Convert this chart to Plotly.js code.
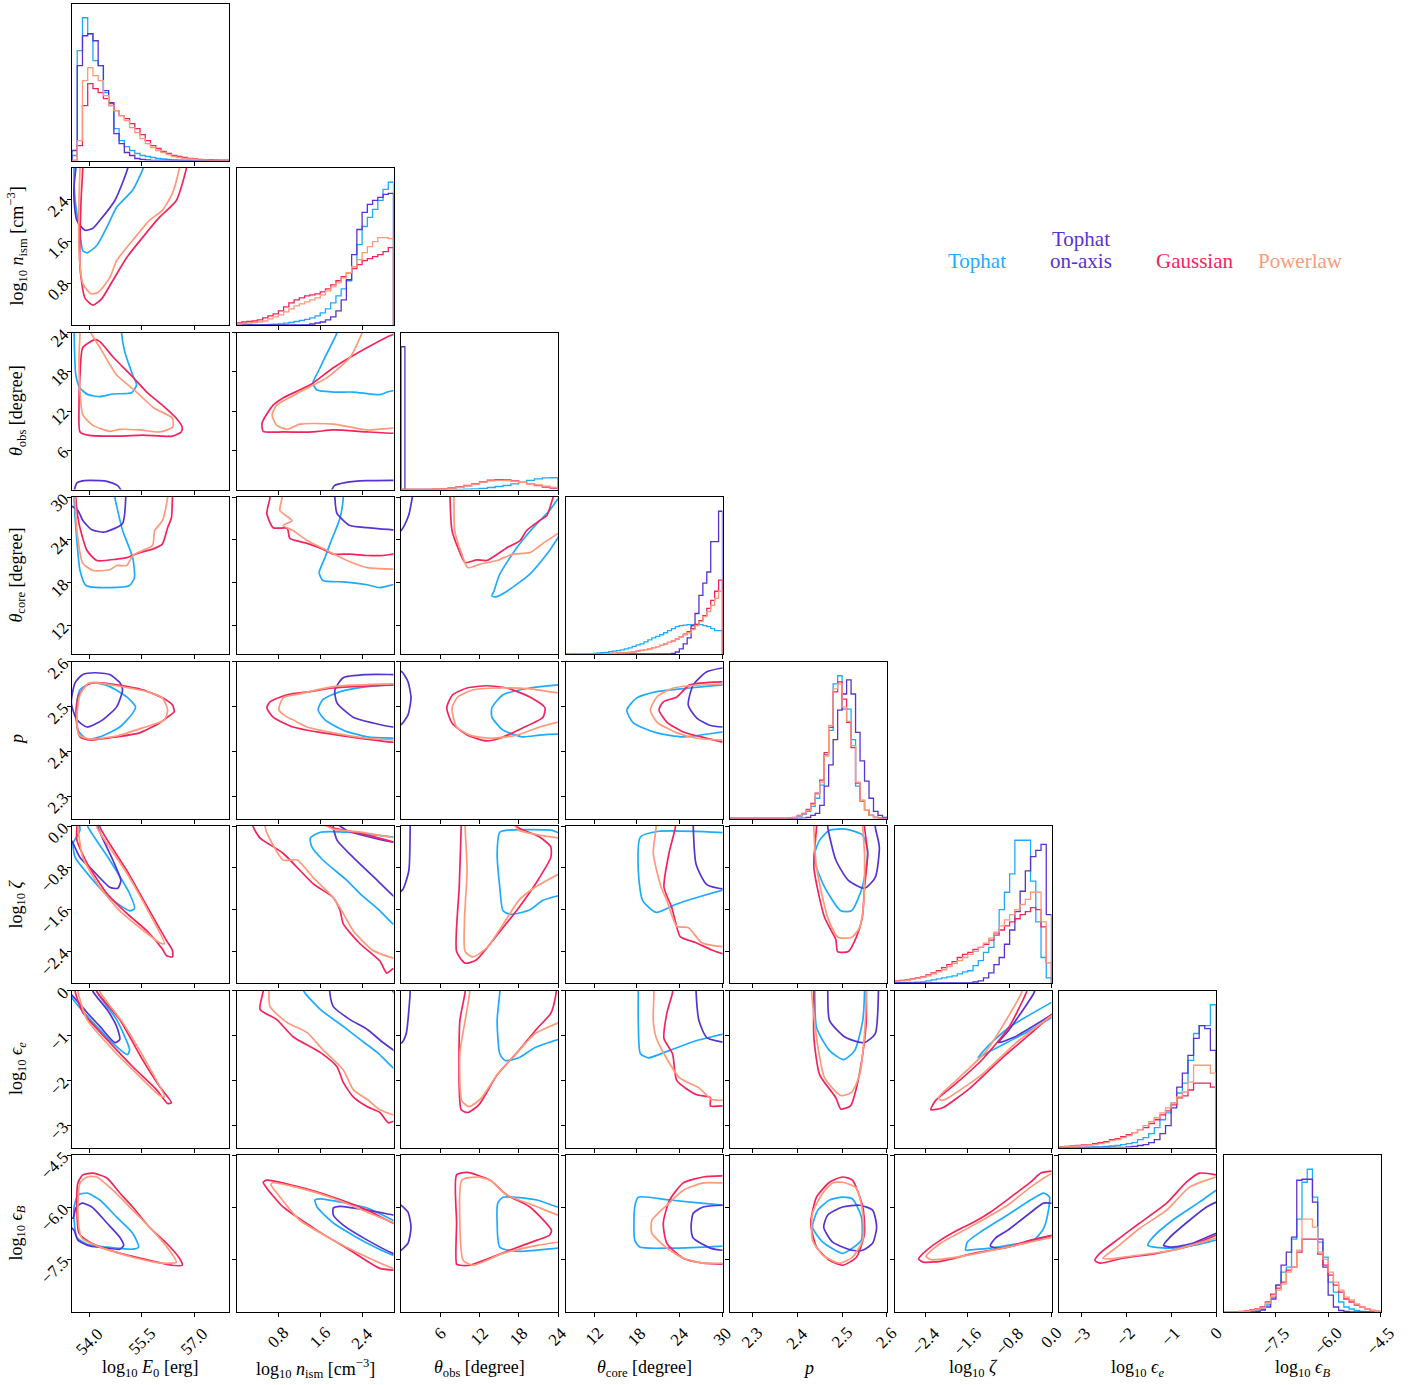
<!DOCTYPE html>
<html><head><meta charset="utf-8">
<script src="https://cdn.plot.ly/plotly-3.0.1.min.js"></script>
<style>html,body{margin:0;padding:0;background:#fff}</style>
</head><body><div id="plot" style="width:1422px;height:1385px"></div>
<script>
// ---------------- models ----------------
var MODELS = ['T','A','G','P'];
var MODEL_COLORS = {T:'#1EABFF', A:'#5633D3', G:'#F2245E', P:'#FF9979'};
var MODEL_NAMES = {T:['Tophat'], A:['Tophat','on-axis'], G:['Gaussian'], P:['Powerlaw']};

// ---------------- variables ----------------
var VARS = ['E0','nism','thobs','thcore','p','zeta','epse','epsB'];
var VAR_LABELS = [
 'log<sub>10</sub> <i>E</i><sub>0</sub> [erg]',
 'log<sub>10</sub> <i>n</i><sub>ism</sub> [cm<sup>−3</sup>]',
 '<i>θ</i><sub>obs</sub> [degree]',
 '<i>θ</i><sub>core</sub> [degree]',
 '<i>p</i>',
 'log<sub>10</sub> <i>ζ</i>',
 'log<sub>10</sub> <i>ϵ</i><sub><i>e</i></sub>',
 'log<sub>10</sub> <i>ϵ</i><sub><i>B</i></sub>'];
var VAR_RANGES = [[53.5,58.0],[0,3.0],[0,24.0001],[8,30.0001],[2.25,2.6001],[-3.0,0.0001],[-3.5,0.0001],[-9.0,-4.4999]];
var TICK_VALS = [[54.0,55.5,57.0],[0.8,1.6,2.4],[6,12,18,24],[12,18,24,30],[2.3,2.4,2.5,2.6],[-2.4,-1.6,-0.8,0.0],[-3,-2,-1,0],[-7.5,-6.0,-4.5]];
var TICK_DECIMALS = [1,1,0,0,1,1,0,1];

// ---------------- 1D histograms: [start, bin width] and heights ----------------
var hb_E0 = [53.5, 0.15];
var h_E0_T = [5,110,143,127,100,95,68,55,32,20,14,10,7,5,4,3,2,1.5,1,0.5,0.3,0,0,0,0,0,0,0,0,0];
var h_E0_A = [10,95,125,127,120,95,70,58,27,17,8,5,2,1,0.5,0,0,0,0,0,0,0,0,0,0,0,0,0,0,0];
var h_E0_G = [0,15,55,77,72,68,62,57,50,45,42,37,32,26,20,15,12,9,7,5,4,3,2,1.5,1,0.7,0.5,0.3,0,0];
var h_E0_P = [0,20,80,93,85,80,65,55,50,45,40,33,28,22,17,13,10,8,6,4,3,2,1.5,1,0.5,0.3,0.2,0,0,0];

var hb_nism = [0, 0.1];
var h_nism_T = [0,0,0,0,0.2,0.3,0.5,0.8,1.2,1.8,2.5,3.5,4.5,5.5,7,9,12,16,22,29,36,44,58,80,98,107,115,124,135,142];
var h_nism_A = [0,0,0,0,0,0,0,0,0,0,0,0,0,0,1,2,3,5,8,14,25,45,70,95,112,120,124,127,130,131];
var h_nism_G = [2,3,3.5,4,5,7,9,11,14,18,22,25,27,29,30,31,33,36,40,44,48,52,56,60,64,66,68,70,73,77];
var h_nism_P = [1,1.5,2,2.5,3,4,6,8,10,13,16,19,21,23,25,27,30,34,38,42,47,52,58,65,72,78,83,87,87,86];

var hb_thobs = [0, 1.2];
var hb_thobs_A = [0, 0.6];
var h_thobs_T = [0,0,0,0,0,0,0,0.2,0.4,0.7,1.2,2,3,4,5.5,7,9,10.5,11.5,11.7];
var h_thobs_A = [142];
var h_thobs_G = [0,0,0,0,0.3,0.8,1.5,2.5,4,5.5,7.5,9.2,9.7,9.5,8.5,7,5.5,4,2.5,1.3];
var h_thobs_P = [0,0,0,0,0.3,0.7,1.3,2.2,3.5,5,7,8.5,9,8.8,8,7,5.8,4.5,3.3,2.2];

var hb_thcore = [8, 0.55];
var h_thcore_T = [0,0,0,0,0,0.2,0.4,0.6,1,1.3,1.7,2.2,2.8,3.3,4,5,6,7.5,9,10,12,14,16,17.5,19,21,23,25,27,28,28.5,29,29,29.5,29,28,27,25,23,23];
var h_thcore_A = [0,0,0,0,0,0,0,0,0,0,0,0,0,0,0,0,0,0,0,0,0,0,0,0,0,0,0,0.5,2,5,10,16,28,40,58,70,81,111,111,141];
var h_thcore_G = [0,0,0,0,0,0,0,0,0.1,0.2,0.3,0.4,0.6,0.8,1,1.3,1.7,2.2,2.8,3.5,4.3,5.2,6.2,7.3,8.5,10,11.5,13,15,17,19.5,22,25,29,33,38,45,53,62,73];
var h_thcore_P = [0,0,0,0,0,0,0,0,0.1,0.2,0.3,0.4,0.6,0.8,1,1.3,1.7,2.2,2.8,3.5,4.3,5.2,6.2,7.3,8.5,10,11.5,13,15,17,19,21,24,28,32,37,42,48,55,62];

var hb_p = [2.25, 0.01];
var h_p_T = [0,0,0,0,0,0,0,0,0,0,0,0,0.1,0.2,0.5,2,4,7,12,20,33,63,87,133,141,108,108,78,32,17,8,3,1,0.3,0];
var h_p_A = [0,0,0,0,0,0,0,0,0,0,0,0,0,0,0,0,0.3,1,3,5,13,32,53,78,107,123,137,123,85,57,37,20,7,3,1];
var h_p_G = [0,0,0,0,0,0,0,0,0,0,0,0,0.1,0.3,1,3,5,9,15,25,38,65,90,125,135,118,95,70,35,18,8,3,1,0.3,0];
var h_p_P = [0,0,0,0,0,0,0,0,0,0,0,0,0.1,0.3,0.8,2.5,4.5,8,14,24,36,62,92,128,133,110,96,72,36,18,8,3,1,0.3,0];

var hb_zeta = [-3.0, 0.1];
var h_zeta_T = [0.3,0.4,0.5,0.7,0.9,1.1,2,3,4,5,6,7,9,11,12,17,22,30,35,49,72,89,107,140,140,140,100,60,25,5];
var h_zeta_A = [0,0,0,0,0,0,0,0,0,0,0,0,0,0,0.2,1,2,5,10,18,25,38,52,70,90,110,124,130,136,67];
var h_zeta_G = [2,2.5,3,4,5,6,8,10,12,15,18,21,25,28,30,33,35,38,42,47,52,56,60,63,67,70,74,72,55,20];
var h_zeta_P = [1.5,2,2.5,3.5,4.5,5.5,7,9,11,13,16,19,22,25,28,31,35,39,44,50,56,62,67,72,77,82,89,89,60,20];

var hb_epse = [-3.5, 0.125];
var h_epse_T = [0,0,0,0.1,0.2,0.3,0.5,0.7,1,1.5,2,3,4,5,8,10,14,20,28,35,45,55,65,88,115,123,123,144];
var h_epse_A = [0,0,0,0,0,0,0,0,0,0,0,0,0.5,1,2,3,5,8,14,22,40,61,75,93,110,123,120,98];
var h_epse_G = [0.5,1,1.5,2,2.5,3,4,5,6,8,9,11,13,15,18,20,24,28,33,37,43,50,52,58,65,65,65,61];
var h_epse_P = [0.5,1,1,1.5,2,2.5,3,4,5,7,8,10,12,15,18,22,26,30,35,40,45,51,56,66,83,83,83,75];

var hb_epsB = [-9.0, 0.15];
var h_epsB_T = [0,0,0,0,0,0.3,1,3,7,15,27,40,45,73,93,130,143,115,70,55,30,20,10,5,3,1.5,0.7,0.3,0,0];
var h_epsB_A = [0,0,0,0,0,0,0.5,2,5,13,27,47,60,75,132,133,133,110,73,45,17,5,1.5,0.5,0,0,0,0,0,0];
var h_epsB_G = [0,0,0,0.5,1,2,3,5,10,18,24,30,42,45,60,73,73,73,58,47,37,27,20,13,10,7,5,3,1.5,0.8];
var h_epsB_P = [0,0,0,0.3,0.7,1.5,2.5,4,9,16,22,28,40,45,62,93,93,85,60,53,40,30,22,15,12,8,5,3,1.5,0.5];

// ---------------- 2D contours (x = column variable, y = row variable) ----------------
var c_nism_E0_T = [[53.58,3.15],[53.56,3.0],[53.59,2.38],[53.73,1.75],[53.81,1.42],[53.93,1.38],[54.21,1.52],[54.50,1.87],[54.78,2.25],[55.24,2.58],[55.52,2.96],[55.6,3.15]];
var c_nism_E0_A = [[53.61,3.15],[53.61,3.0],[53.56,2.67],[53.56,2.38],[53.64,2.0],[53.87,1.81],[54.10,1.85],[54.30,2.0],[54.73,2.38],[54.98,2.77],[55.10,3.0],[55.16,3.15]];
var c_nism_E0_G = [[53.82,3.15],[53.81,3.0],[53.76,2.38],[53.73,1.10],[53.87,0.52],[54.10,0.38],[54.35,0.5],[54.67,0.85],[55.07,1.29],[55.52,1.67],[56.01,2.06],[56.49,2.38],[56.78,3.0],[56.8,3.15]];
var c_nism_E0_P = [[53.73,3.15],[53.73,3.0],[53.70,2.38],[53.70,1.42],[53.81,0.79],[54.04,0.6],[54.24,0.62],[54.58,0.9],[54.78,1.23],[55.24,1.62],[55.72,2.0],[56.09,2.19],[56.38,2.52],[56.58,3.0],[56.62,3.15]];

var c_thobs_E0_T = [[53.56,25],[53.56,24],[53.61,17.5],[53.73,15.5],[53.96,14.5],[54.30,14.2],[54.67,14.6],[55.21,14.8],[55.35,16],[55.24,17.5],[55.01,21.1],[54.92,24],[54.92,25]];
var c_thobs_E0_A = [[53.55,-0.5],[53.64,1.0],[53.85,1.35],[54.01,1.4],[54.5,1.25],[54.81,0.6],[54.95,-0.5]];
var c_thobs_E0_G = [[54.16,22.9],[53.81,21.7],[53.73,17.5],[53.70,12.5],[53.73,8.8],[53.96,8.3],[54.87,8.15],[55.52,8.3],[56.38,8.15],[56.63,8.8],[56.66,9.5],[56.49,10.9],[56.09,12.9],[55.64,14.9],[55.24,17.2],[54.67,20.3],[54.30,22.6],[54.16,22.9]];
var c_thobs_E0_P = [[54.04,25],[54.04,24],[54.30,21.7],[54.78,17.5],[55.35,14.9],[55.84,12.5],[56.38,10.9],[56.38,9.5],[56.01,8.8],[55.44,9.1],[54.87,9.2],[54.58,8.9],[54.10,9.8],[53.81,11.4],[53.73,14.9],[53.70,20.2],[53.73,24],[53.73,25]];

var c_thobs_nism_T = [[1.92,25],[1.92,24],[1.69,20.2],[1.56,18],[1.46,16.3],[1.54,15.2],[1.85,14.9],[2.23,14.9],[2.74,14.5],[2.88,14.9],[2.99,15.1],[3.1,15.1]];
var c_thobs_nism_A = [[1.8,-0.5],[1.87,0.6],[2.1,1.1],[2.5,1.35],[2.99,1.4],[3.1,1.4]];
var c_thobs_nism_G = [[3.1,23.9],[2.99,23.7],[2.50,21.7],[1.85,18.6],[1.41,16.0],[0.89,14.0],[0.70,12.9],[0.49,10.2],[0.51,8.9],[0.89,8.8],[1.46,8.8],[1.85,9.1],[2.50,8.8],[2.99,8.6],[3.1,8.6]];
var c_thobs_nism_P = [[2.42,25],[2.40,24],[2.17,20.2],[1.73,17.1],[1.21,14.9],[0.77,12.9],[0.68,11.4],[0.77,9.8],[0.97,9.2],[1.21,10.0],[1.85,10.0],[2.50,9.1],[2.99,9.4],[3.1,9.4]];

var c_thcore_E0_T = [[53.56,31],[53.56,29.9],[53.64,23.9],[53.73,19.7],[53.90,17.6],[54.58,17.3],[55.15,17.6],[55.29,18.7],[55.24,21.5],[54.95,25.3],[54.81,28.1],[54.73,29.9],[54.73,31]];
var c_thcore_E0_A = [[55.04,31],[55.04,29.9],[54.95,26.3],[54.44,25.1],[54.07,25.4],[53.81,26.7],[53.67,28.1],[53.4,29]];
var c_thcore_E0_G = [[53.61,31],[53.61,29.9],[53.70,26.3],[53.93,22.5],[54.21,21.1],[54.78,21.3],[55.07,21.5],[55.44,22.2],[55.81,22.7],[56.09,23.4],[56.24,25.7],[56.35,27.1],[56.38,29.9],[56.4,31]];
var c_thcore_E0_P = [[53.59,31],[53.59,29.9],[53.64,25.3],[53.81,20.7],[54.10,19.7],[54.58,19.8],[54.78,20.4],[55.07,20.4],[55.24,21.8],[55.52,22.5],[55.81,23.2],[55.87,25.3],[56.09,26.7],[56.24,29.9],[56.26,31]];

var c_thcore_nism_T = [[2.04,31],[2.04,29.9],[1.98,27.1],[1.79,23.5],[1.69,21.5],[1.58,19.4],[1.65,18.3],[2.04,18.1],[2.50,17.7],[2.74,17.3],[2.99,17.7],[3.1,17.7]];
var c_thcore_nism_A = [[1.88,31],[1.88,29.9],[1.92,27.7],[2.17,26.0],[2.50,25.7],[2.99,25.4],[3.1,25.4]];
var c_thcore_nism_G = [[0.64,31],[0.64,29.9],[0.58,27.7],[0.70,25.7],[0.97,25.6],[1.02,24.2],[1.35,23.5],[1.65,22.7],[1.85,22.0],[2.17,22.0],[2.50,21.8],[2.80,21.8],[2.99,22.0],[3.1,22.0]];
var c_thcore_nism_P = [[0.87,31],[0.87,29.9],[0.83,28.1],[1.06,26.7],[0.89,26.0],[1.08,25.3],[1.35,23.9],[1.73,22.5],[2.11,21.1],[2.50,20.1],[2.99,19.9],[3.1,19.9]];

var c_thcore_thobs_T = [[25.5,31.5],[23.8,29.5],[22.7,28.1],[20.2,25.7],[17.7,22.9],[15.1,19.2],[14.2,16.8],[13.9,16.1],[14.5,16.0],[16.2,16.8],[19.7,19.2],[22.3,22.0],[24,24.3],[25,25.8]];
var c_thcore_thobs_A = [[1.9,31],[1.7,29.8],[1.2,27.5],[0.5,26],[0,25.3],[-0.5,25.1]];
var c_thcore_thobs_G = [[7.5,31],[7.5,29.8],[7.8,25.3],[8.7,22.9],[9.8,20.8],[11.6,21.2],[13.1,21.1],[16.2,22.9],[18.2,23.9],[19.2,25.3],[21.2,26.7],[22.3,27.4],[23.2,29.8],[23.6,31]];
var c_thcore_thobs_P = [[8.1,31],[8.1,29.8],[8.2,25.3],[9.3,22.0],[10.2,20.1],[12.1,20.6],[14.7,21.1],[17.1,22.0],[19.7,22.2],[21.7,23.5],[24.0,24.9],[25,25.5]];

var c_p_E0_T = [[54.10,2.553],[54.58,2.544],[55.07,2.521],[55.32,2.499],[55.24,2.485],[54.87,2.454],[54.30,2.432],[53.93,2.427],[53.67,2.447],[53.61,2.492],[53.73,2.537],[54.10,2.553]];
var c_p_E0_A = [[54.16,2.575],[54.58,2.571],[54.87,2.553],[54.95,2.537],[54.78,2.499],[54.38,2.470],[53.93,2.454],[53.64,2.470],[53.48,2.508],[53.59,2.553],[53.81,2.571],[54.16,2.575]];
var c_p_E0_G = [[54.21,2.553],[54.78,2.548],[55.52,2.537],[56.09,2.519],[56.38,2.503],[56.43,2.488],[56.24,2.476],[56.01,2.463],[55.44,2.441],[54.78,2.432],[54.01,2.425],[53.73,2.432],[53.64,2.463],[53.67,2.521],[53.93,2.548],[54.21,2.553]];
var c_p_E0_P = [[54.16,2.553],[54.78,2.546],[55.64,2.533],[56.09,2.519],[56.24,2.492],[56.15,2.470],[55.52,2.452],[54.78,2.434],[54.01,2.427],[53.70,2.436],[53.64,2.476],[53.73,2.526],[53.96,2.551],[54.16,2.553]];

var c_p_nism_T = [[3.1,2.548],[2.99,2.548],[2.50,2.544],[1.98,2.533],[1.65,2.515],[1.56,2.492],[1.69,2.470],[2.04,2.447],[2.50,2.432],[2.99,2.429],[3.1,2.429]];
var c_p_nism_A = [[3.1,2.571],[2.99,2.571],[2.50,2.571],[2.04,2.564],[1.88,2.537],[1.92,2.508],[2.23,2.476],[2.61,2.463],[2.99,2.454],[3.1,2.454]];
var c_p_nism_G = [[3.1,2.548],[2.99,2.548],[1.85,2.541],[1.41,2.533],[0.97,2.526],[0.64,2.510],[0.58,2.497],[0.70,2.476],[1.08,2.454],[1.54,2.443],[2.17,2.432],[2.99,2.420],[3.1,2.420]];
var c_p_nism_P = [[3.1,2.550],[2.99,2.550],[1.85,2.544],[1.21,2.528],[0.89,2.519],[0.81,2.492],[0.97,2.476],[1.08,2.470],[1.35,2.454],[1.85,2.441],[2.50,2.429],[2.99,2.425],[3.1,2.425]];

var c_p_thobs_T = [[25,2.549],[24.0,2.548],[19.7,2.541],[15.6,2.526],[13.9,2.497],[13.9,2.476],[15.6,2.447],[18.6,2.432],[21.2,2.436],[24.0,2.438],[25,2.438]];
var c_p_thobs_A = [[-0.5,2.58],[0.15,2.577],[1.07,2.555],[1.53,2.519],[1.07,2.481],[0.15,2.461],[-0.5,2.455]];
var c_p_thobs_G = [[7.0,2.497],[7.9,2.526],[10.1,2.541],[13.1,2.546],[16.2,2.541],[19.7,2.521],[22.0,2.497],[21.7,2.476],[18.6,2.452],[15.1,2.429],[13.1,2.423],[10.1,2.436],[7.8,2.463],[7.0,2.497]];
var c_p_thobs_P = [[25,2.528],[24.0,2.530],[19.7,2.539],[14.7,2.541],[11.0,2.537],[8.7,2.521],[7.8,2.497],[8.5,2.454],[10.5,2.436],[13.6,2.429],[17.7,2.436],[21.2,2.454],[24.0,2.465],[25,2.468]];

var c_p_thcore_T = [[31,2.549],[30.1,2.548],[25.4,2.541],[20.8,2.533],[18.0,2.519],[16.6,2.492],[17.5,2.463],[20.8,2.441],[24.5,2.432],[30.1,2.443],[31,2.444]];
var c_p_thcore_A = [[31,2.588],[30.1,2.586],[27.8,2.577],[25.9,2.548],[25.2,2.503],[26.4,2.474],[28.2,2.458],[30.1,2.454],[31,2.454]];
var c_p_thcore_G = [[31,2.555],[30.1,2.555],[25.4,2.548],[23.6,2.521],[21.7,2.510],[21.1,2.492],[22.2,2.465],[24.5,2.443],[27.8,2.429],[30.1,2.420],[31,2.419]];
var c_p_thcore_P = [[31,2.550],[30.1,2.550],[23.1,2.541],[20.8,2.521],[19.9,2.492],[20.8,2.465],[23.6,2.441],[26.4,2.429],[30.1,2.425],[31,2.425]];

var c_zeta_E0_T = [[53.67,0.12],[53.73,-0.08],[53.53,-0.33],[53.59,-0.6],[53.93,-0.90],[54.58,-1.37],[55.15,-1.62],[55.29,-1.58],[55.15,-1.29],[54.58,-0.65],[53.96,-0.02],[53.90,0.12]];
var c_zeta_E0_A = [[54.24,0.1],[54.24,-0.02],[54.67,-0.65],[54.90,-1.04],[54.81,-1.19],[54.58,-1.17],[54.10,-0.85],[53.73,-0.6],[53.53,-0.33],[53.44,-0.23]];
var c_zeta_E0_G = [[54.30,0.12],[54.30,-0.02],[55.07,-0.85],[55.72,-1.62],[56.21,-2.19],[56.38,-2.38],[56.38,-2.50],[56.21,-2.48],[56.09,-2.35],[55.64,-2.0],[55.07,-1.67],[54.50,-1.29],[53.93,-0.71],[53.64,-0.27],[53.64,-0.02],[53.64,0.12]];
var c_zeta_E0_P = [[54.21,0.12],[54.21,-0.02],[55.07,-0.90],[55.72,-1.67],[56.15,-2.25],[56.01,-2.23],[55.44,-1.94],[54.87,-1.62],[54.30,-1.17],[53.81,-0.6],[53.67,-0.02],[53.67,0.12]];

var c_zeta_nism_T = [[3.1,-0.21],[2.99,-0.21],[2.17,-0.12],[1.60,-0.12],[1.41,-0.23],[1.44,-0.40],[1.65,-0.65],[2.11,-1.04],[2.36,-1.29],[2.74,-1.62],[2.99,-1.87],[3.1,-1.93]];
var c_zeta_nism_A = [[3.1,-0.33],[2.99,-0.31],[2.5,-0.2],[2.1,-0.08],[1.9,0.05],[1.85,0.05],[1.85,-0.02],[1.92,-0.27],[2.23,-0.6],[2.69,-1.04],[2.99,-1.33],[3.1,-1.4]];
var c_zeta_nism_G = [[3.1,-0.33],[2.99,-0.3],[2.4,-0.15],[1.85,-0.04],[1.5,0.1],[0.30,0.1],[0.32,-0.02],[0.45,-0.23],[0.89,-0.52],[1.46,-1.10],[1.85,-1.37],[1.98,-1.62],[2.04,-1.87],[2.36,-2.25],[2.74,-2.58],[2.87,-2.81],[2.99,-2.73],[3.1,-2.75]];
var c_zeta_nism_P = [[3.1,-0.23],[2.99,-0.22],[2.4,-0.12],[1.85,-0.06],[1.5,0.1],[0.54,0.1],[0.55,-0.02],[0.58,-0.13],[0.89,-0.65],[1.16,-0.65],[1.46,-0.98],[1.85,-1.37],[2.04,-1.67],[2.23,-2.0],[2.61,-2.38],[2.99,-2.52],[3.1,-2.52]];

var c_zeta_thobs_T = [[25,-0.16],[24.1,-0.13],[22.9,-0.08],[16.3,-0.08],[15.1,-0.12],[14.7,-0.52],[15.1,-1.17],[15.6,-1.62],[16.8,-1.69],[19.7,-1.60],[21.7,-1.42],[24.1,-1.33],[25,-1.3]];
var c_zeta_thobs_A = [[1.4,0.12],[1.4,-0.02],[1.2,-0.85],[0.3,-1.21],[-0.5,-1.3]];
var c_zeta_thobs_G = [[9.2,0.12],[9.2,-0.02],[8.9,-1.17],[8.5,-2.40],[9.8,-2.62],[11.5,-2.56],[14.7,-2.08],[18.0,-1.56],[20.9,-1.04],[22.9,-0.60],[22.9,-0.40],[21.2,-0.21],[18.0,-0.04],[17,0.05],[16,0.12]];
var c_zeta_thobs_P = [[9.8,0.12],[9.8,-0.02],[10.1,-0.85],[9.7,-1.81],[9.8,-2.40],[11.0,-2.50],[13.1,-2.33],[15.6,-1.88],[18.0,-1.42],[20.5,-1.17],[24.1,-0.92],[25,-0.88],null,[17,0.1],[18.0,-0.08],[24.1,-0.23],[25,-0.25]];

var c_zeta_thcore_T = [[31,-0.14],[30.5,-0.13],[21.1,-0.10],[18.5,-0.21],[18.2,-0.85],[18.8,-1.42],[20.7,-1.65],[23.4,-1.50],[26.3,-1.37],[30.5,-1.21],[31,-1.2]];
var c_zeta_thcore_A = [[25.9,0.12],[25.9,-0.02],[26.3,-0.73],[27.8,-1.12],[30.5,-1.21],[31,-1.21]];
var c_zeta_thcore_G = [[23.4,0.12],[23.4,-0.02],[22.5,-0.52],[21.8,-1.17],[22.9,-1.56],[23.4,-1.83],[24.1,-2.12],[26.3,-2.23],[28.5,-2.37],[30.5,-2.46],[31,-2.47]];
var c_zeta_thcore_P = [[20.7,0.12],[20.7,-0.02],[20.3,-0.52],[21.4,-1.17],[22.2,-1.42],[23.6,-1.92],[25.2,-1.94],[27.1,-2.23],[30.5,-2.31],[31,-2.31]];

var c_zeta_p_T = [[2.450,-0.27],[2.472,-0.08],[2.508,-0.06],[2.545,-0.17],[2.557,-0.46],[2.545,-1.17],[2.521,-1.62],[2.497,-1.62],[2.461,-1.17],[2.437,-0.60],[2.450,-0.27]];
var c_zeta_p_A = [[2.468,0.12],[2.468,-0.02],[2.486,-0.65],[2.514,-1.04],[2.550,-1.19],[2.574,-0.98],[2.583,-0.40],[2.574,-0.02],[2.574,0.12]];
var c_zeta_p_G = [[2.443,0.12],[2.443,-0.02],[2.437,-0.79],[2.461,-1.75],[2.486,-2.17],[2.490,-2.40],[2.514,-2.40],[2.532,-2.12],[2.545,-1.75],[2.550,-1.17],[2.557,-0.54],[2.550,-0.02],[2.550,0.12]];
var c_zeta_p_P = [[2.437,0.12],[2.437,-0.02],[2.443,-0.79],[2.468,-1.75],[2.490,-2.12],[2.521,-2.13],[2.539,-1.94],[2.548,-1.50],[2.550,-0.54],[2.546,-0.02],[2.546,0.12]];

var c_epse_E0_T = [[54.21,0.13],[54.21,-0.02],[54.78,-0.65],[55.15,-1.32],[55.09,-1.43],[54.78,-1.25],[54.10,-0.71],[53.53,-0.2],[53.44,-0.1]];
var c_epse_E0_A = [[54.10,0.13],[54.10,-0.02],[54.50,-0.42],[54.78,-0.80],[54.87,-1.09],[54.73,-1.16],[54.30,-0.80],[53.93,-0.49],[53.53,-0.13],[53.44,-0.07]];
var c_epse_E0_G = [[54.21,0.13],[54.21,-0.02],[54.87,-0.65],[55.52,-1.54],[56.01,-2.14],[56.35,-2.5],[56.24,-2.52],[55.92,-2.21],[55.24,-1.70],[54.50,-1.09],[53.81,-0.49],[53.59,-0.02],[53.59,0.13]];
var c_epse_E0_P = [[54.30,0.13],[54.30,-0.02],[54.95,-0.71],[55.64,-1.61],[56.15,-2.37],[56.01,-2.34],[55.44,-1.92],[54.67,-1.32],[53.93,-0.65],[53.67,-0.02],[53.67,0.13]];

var c_epse_nism_T = [[1.29,0.13],[1.29,-0.02],[1.60,-0.42],[2.04,-0.80],[2.36,-1.09],[2.69,-1.38],[2.99,-1.72],[3.1,-1.8]];
var c_epse_nism_A = [[3.1,-0.2],[2.95,0.05],null,[1.78,0.13],[1.78,-0.02],[1.85,-0.36],[2.17,-0.65],[2.50,-0.87],[2.80,-1.16],[2.99,-1.32],[3.1,-1.4]];
var c_epse_nism_G = [[0.51,0.13],[0.51,-0.02],[0.45,-0.42],[0.77,-0.65],[1.08,-1.03],[1.60,-1.38],[1.92,-1.70],[2.04,-2.05],[2.23,-2.37],[2.50,-2.59],[2.74,-2.72],[2.90,-2.95],[2.99,-2.92],[3.1,-2.92]];
var c_epse_nism_P = [[0.62,0.13],[0.62,-0.02],[0.64,-0.36],[0.96,-0.71],[1.35,-0.94],[1.65,-1.32],[2.04,-1.77],[2.23,-2.21],[2.50,-2.43],[2.74,-2.66],[2.99,-2.77],[3.1,-2.8]];

var c_epse_thobs_T = [[15.1,0.13],[15.1,-0.04],[14.7,-0.67],[15.1,-1.41],[15.9,-1.56],[18.0,-1.50],[20.5,-1.27],[24.1,-1.09],[25,-1.07]];
var c_epse_thobs_A = [[1.4,0.13],[1.4,-0.04],[0.8,-0.96],[0.15,-1.16],[-0.5,-1.2]];
var c_epse_thobs_G = [[9.8,0.13],[9.8,-0.04],[9.0,-0.67],[8.9,-2.17],[9.2,-2.66],[10.2,-2.72],[11.9,-2.55],[14.7,-1.88],[18.0,-1.34],[20.9,-0.83],[22.9,-0.51],[23.7,-0.07],[23.8,0.13]];
var c_epse_thobs_P = [[10.5,0.13],[10.5,-0.04],[9.8,-0.67],[9.0,-1.41],[9.3,-2.46],[10.4,-2.59],[12.2,-2.41],[14.7,-1.88],[18.0,-1.34],[20.5,-0.96],[24.1,-0.72],[25,-0.7]];

var c_epse_thcore_T = [[18.2,0.13],[18.2,-0.04],[18.2,-0.67],[18.5,-1.41],[19.6,-1.50],[22.5,-1.34],[26.3,-1.12],[30.5,-0.96],[31,-0.95]];
var c_epse_thcore_A = [[26.3,0.13],[26.3,-0.04],[26.7,-0.67],[27.8,-1.05],[30.5,-1.16],[31,-1.16]];
var c_epse_thcore_G = [[23.0,0.13],[23.0,-0.04],[22.2,-0.51],[21.8,-1.07],[23.0,-1.41],[23.6,-2.01],[26.3,-2.32],[28.3,-2.39],[28.3,-2.57],[30.5,-2.57],[31,-2.57]];
var c_epse_thcore_P = [[20.4,0.13],[20.4,-0.04],[20.3,-0.67],[20.7,-1.05],[21.8,-1.41],[24.0,-1.95],[26.7,-2.17],[28.5,-2.43],[30.5,-2.45],[31,-2.45]];

var c_epse_p_T = [[2.439,0.13],[2.439,-0.04],[2.443,-0.83],[2.472,-1.34],[2.503,-1.54],[2.528,-1.34],[2.546,-0.67],[2.55,-0.04],[2.55,0.13]];
var c_epse_p_A = [[2.468,0.13],[2.468,-0.04],[2.472,-0.67],[2.508,-1.05],[2.550,-1.16],[2.574,-0.96],[2.581,-0.04],[2.581,0.13]];
var c_epse_p_G = [[2.437,0.13],[2.437,-0.04],[2.437,-1.05],[2.45,-1.88],[2.486,-2.39],[2.497,-2.64],[2.519,-2.57],[2.532,-2.17],[2.546,-1.41],[2.554,-0.67],[2.554,-0.04],[2.554,0.13]];
var c_epse_p_P = [[2.432,0.13],[2.432,-0.04],[2.443,-1.05],[2.461,-1.95],[2.497,-2.34],[2.521,-2.27],[2.539,-1.88],[2.55,-0.96],[2.554,-0.04],[2.554,0.13]];

var c_epse_zeta_T = [[0.13,-0.18],[-0.82,-0.83],[-1.24,-1.27],[-1.40,-1.50],[-1.15,-1.34],[-0.52,-0.96],[0.13,-0.51]];
var c_epse_zeta_A = [[-0.3,0.13],[-0.33,-0.04],[-0.82,-0.89],[-1.01,-1.16],[-0.73,-1.05],[0.13,-0.45]];
var c_epse_zeta_G = [[-0.45,0.13],[-0.48,-0.04],[-0.82,-0.83],[-1.34,-1.56],[-1.85,-2.10],[-2.22,-2.46],[-2.31,-2.66],[-2.2,-2.65],[-2.07,-2.61],[-1.55,-2.17],[-0.94,-1.50],[-0.33,-0.89],[0.13,-0.40]];
var c_epse_zeta_P = [[-0.55,0.13],[-0.57,-0.04],[-1.24,-1.34],[-1.76,-1.94],[-2.16,-2.39],[-2.1,-2.45],[-1.97,-2.39],[-1.34,-1.88],[-0.63,-1.12],[0.13,-0.45]];

var c_epsB_E0_T = [[53.56,-5.99],[53.67,-5.65],[53.93,-5.59],[54.30,-5.79],[54.78,-6.28],[55.24,-6.74],[55.41,-7.14],[55.24,-7.20],[54.50,-7.14],[53.93,-7.06],[53.64,-6.86],[53.56,-6.37],[53.56,-5.99]];
var c_epsB_E0_A = [[53.45,-6.3],[53.53,-6.31],[53.61,-6.02],[53.78,-5.88],[54.07,-5.99],[54.50,-6.45],[54.87,-6.86],[54.98,-7.09],[54.87,-7.20],[54.50,-7.17],[54.01,-7.11],[53.67,-6.94],[53.56,-6.66],[53.45,-6.55]];
var c_epsB_E0_G = [[53.67,-5.30],[53.81,-5.07],[54.10,-5.02],[54.50,-5.16],[54.87,-5.59],[55.24,-5.99],[55.72,-6.57],[56.21,-7.03],[56.58,-7.46],[56.66,-7.66],[56.38,-7.66],[55.72,-7.52],[54.78,-7.29],[54.01,-7.00],[53.70,-6.74],[53.64,-5.99],[53.67,-5.30]];
var c_epsB_E0_P = [[53.73,-5.30],[53.93,-5.13],[54.21,-5.13],[54.67,-5.51],[55.24,-6.08],[55.81,-6.66],[56.29,-7.23],[56.49,-7.57],[56.09,-7.60],[55.24,-7.43],[54.30,-7.14],[53.78,-6.88],[53.67,-6.17],[53.73,-5.30]];

var c_epsB_nism_T = [[3.1,-6.42],[2.99,-6.37],[2.50,-6.02],[1.60,-5.76],[1.50,-5.79],[1.54,-5.99],[1.85,-6.45],[2.50,-7.03],[2.99,-7.37],[3.1,-7.42]];
var c_epsB_nism_A = [[3.1,-6.25],[2.99,-6.22],[2.5,-6.08],[1.98,-5.97],[1.85,-6.02],[1.85,-6.22],[2.04,-6.51],[2.5,-6.94],[2.99,-7.32],[3.1,-7.37]];
var c_epsB_nism_G = [[3.1,-6.5],[2.99,-6.45],[2.50,-6.08],[1.85,-5.71],[1.21,-5.42],[0.58,-5.22],[0.51,-5.28],[0.58,-5.45],[0.89,-5.99],[1.54,-6.66],[2.17,-7.23],[2.74,-7.75],[2.99,-7.80],[3.1,-7.82]];
var c_epsB_nism_P = [[3.1,-6.46],[2.99,-6.43],[2.50,-6.14],[1.85,-5.74],[1.21,-5.45],[0.68,-5.30],[0.66,-5.36],[0.77,-5.59],[1.21,-6.37],[1.85,-6.94],[2.50,-7.43],[2.99,-7.75],[3.1,-7.8]];

var c_epsB_thobs_T = [[25,-5.99],[24.0,-5.99],[20.8,-5.79],[15.6,-5.71],[14.8,-5.88],[14.7,-6.45],[15.1,-7.14],[18.2,-7.26],[24.0,-7.17],[25,-7.16]];
var c_epsB_thobs_A = [[-0.5,-5.9],[0,-5.94],[1.07,-6.14],[1.53,-6.57],[1.07,-7.03],[0,-7.23],[-0.5,-7.25]];
var c_epsB_thobs_G = [[8.5,-5.07],[10.1,-5.0],[13.6,-5.22],[16.2,-5.65],[19.7,-5.99],[23.0,-6.66],[22.7,-6.80],[20.8,-6.94],[16.6,-7.23],[10.5,-7.66],[9.0,-7.66],[8.5,-7.63],[8.5,-6.45],[8.5,-5.07]];
var c_epsB_thobs_P = [[25,-6.25],[24.0,-6.22],[20.2,-5.94],[16.2,-5.65],[13.6,-5.22],[11.6,-5.13],[9.3,-5.22],[9.0,-6.45],[9.5,-7.52],[11.0,-7.66],[15.6,-7.32],[20.8,-7.09],[24.0,-7.0],[25,-6.98]];

var c_epsB_thcore_T = [[31,-5.95],[30.1,-5.94],[22.6,-5.79],[18.2,-5.71],[17.7,-5.99],[17.7,-6.94],[18.4,-7.14],[22.6,-7.17],[27.3,-7.14],[30.1,-7.11],[31,-7.1]];
var c_epsB_thcore_A = [[31,-5.94],[30.1,-5.94],[27.3,-5.99],[25.9,-6.17],[25.6,-6.57],[25.9,-6.88],[28.3,-7.17],[30.1,-7.23],[31,-7.23]];
var c_epsB_thcore_G = [[31,-5.1],[30.1,-5.10],[27.3,-5.13],[24.5,-5.30],[22.6,-5.79],[21.7,-6.45],[22.2,-7.03],[24.5,-7.46],[27.3,-7.60],[30.1,-7.63],[31,-7.63]];
var c_epsB_thcore_P = [[31,-5.3],[30.1,-5.30],[27.3,-5.30],[24.5,-5.51],[22.2,-5.94],[20.1,-6.37],[20.1,-6.74],[22.2,-7.17],[24.5,-7.46],[27.3,-7.60],[30.1,-7.60],[31,-7.6]];

var c_epsB_p_T = [[2.501,-5.71],[2.523,-5.76],[2.543,-6.28],[2.543,-6.94],[2.523,-7.17],[2.501,-7.32],[2.457,-7.00],[2.434,-6.57],[2.446,-6.08],[2.472,-5.79],[2.501,-5.71]];
var c_epsB_p_A = [[2.501,-5.99],[2.539,-5.94],[2.568,-6.08],[2.577,-6.57],[2.568,-7.03],[2.546,-7.23],[2.523,-7.23],[2.479,-7.00],[2.459,-6.57],[2.468,-6.22],[2.501,-5.99]];
var c_epsB_p_G = [[2.501,-5.13],[2.523,-5.22],[2.546,-5.99],[2.550,-6.74],[2.532,-7.43],[2.501,-7.66],[2.472,-7.52],[2.443,-7.14],[2.430,-6.45],[2.443,-5.71],[2.472,-5.28],[2.501,-5.13]];
var c_epsB_p_P = [[2.501,-5.28],[2.532,-5.45],[2.546,-6.17],[2.546,-6.94],[2.523,-7.43],[2.494,-7.60],[2.457,-7.37],[2.434,-6.94],[2.434,-6.17],[2.457,-5.59],[2.479,-5.30],[2.501,-5.28]];

var c_epsB_zeta_T = [[-1.64,-7.23],[-1.61,-7.0],[-1.36,-6.71],[-0.84,-6.22],[-0.40,-5.79],[-0.15,-5.59],[-0.04,-5.70],[-0.06,-6.1],[-0.15,-6.6],[-0.34,-6.94],[-0.84,-7.09],[-1.17,-7.17],[-1.55,-7.22],[-1.64,-7.23]];
var c_epsB_zeta_A = [[0.1,-5.87],[0.02,-5.88],[-0.15,-5.88],[-0.46,-6.22],[-0.84,-6.66],[-1.07,-6.88],[-1.17,-7.10],[-1.05,-7.17],[-0.84,-7.14],[-0.46,-7.0],[0.02,-6.80],[0.1,-6.78]];
var c_epsB_zeta_G = [[0.1,-4.95],[0.02,-4.96],[-0.21,-5.02],[-0.40,-5.28],[-0.78,-5.71],[-1.17,-6.14],[-1.49,-6.43],[-1.80,-6.66],[-2.12,-6.94],[-2.4,-7.25],[-2.54,-7.48],[-2.45,-7.57],[-2.12,-7.55],[-1.49,-7.32],[-0.84,-7.14],[-0.40,-6.94],[0.02,-6.80],[0.1,-6.78]];
var c_epsB_zeta_P = [[0.1,-5.0],[0.02,-5.02],[-0.40,-5.42],[-0.84,-5.94],[-1.49,-6.51],[-2.12,-7.03],[-2.40,-7.40],[-2.30,-7.50],[-2.12,-7.49],[-1.49,-7.34],[-0.84,-7.14],[0.02,-6.86],[0.1,-6.85]];

var c_epsB_epse_T = [[0.1,-5.48],[0.01,-5.51],[-0.37,-5.85],[-0.97,-6.37],[-1.41,-6.86],[-1.52,-7.09],[-1.10,-7.17],[-0.59,-7.11],[0.01,-6.94],[0.1,-6.92]];
var c_epsB_epse_A = [[0.1,-5.82],[0.01,-5.85],[-0.21,-5.99],[-0.59,-6.37],[-1.03,-6.86],[-1.17,-7.09],[-0.97,-7.14],[-0.52,-7.03],[0.01,-6.74],[0.1,-6.72]];
var c_epsB_epse_G = [[0.1,-5.08],[0.01,-5.07],[-0.37,-5.02],[-0.66,-5.28],[-1.10,-5.88],[-1.70,-6.45],[-2.21,-6.94],[-2.59,-7.32],[-2.70,-7.52],[-2.59,-7.60],[-2.08,-7.46],[-1.32,-7.32],[-0.59,-7.11],[0.01,-6.80],[0.1,-6.78]];
var c_epsB_epse_P = [[0.1,-5.12],[0.01,-5.13],[-0.59,-5.42],[-1.10,-6.08],[-1.70,-6.60],[-2.21,-7.14],[-2.52,-7.46],[-2.35,-7.48],[-2.08,-7.43],[-0.97,-7.23],[0.01,-6.88],[0.1,-6.86]];

// ---------------- build ----------------
var FONT = '"Liberation Serif", "DejaVu Serif", serif';
var W = 1422, H = 1385, PS = 157;
var COL_LEFT = [72,236.5,401,565.5,730,894.5,1059,1223.5];
var ROW_TOP = [3.5,168,332.5,497,661.5,826,990.5,1155];
var TICK_FONT = {family:FONT, size:17, color:'#000'};

function tickText(v){
  return TICK_VALS[v].map(function(t){ return t.toFixed(TICK_DECIMALS[v]).replace('-', '\u2212'); });
}
function stepXY(bins, counts){
  var s = bins[0], w = bins[1], n = counts.length;
  var x = [s], y = [0];
  for (var i = 0; i < n; i++){ x.push(s + i*w); y.push(counts[i]); }
  x.push(s + n*w); y.push(counts[n-1]);
  x.push(s + n*w); y.push(0);
  return {x:x, y:y};
}
var traces = [];
var layout = {width:W, height:H, margin:{l:0,r:0,t:0,b:0}, showlegend:false,
  paper_bgcolor:'#fff', plot_bgcolor:'#fff', font:{family:FONT, color:'#000'}, annotations:[]};
var common = {showline:true, mirror:true, linecolor:'#000', linewidth:1, showgrid:false, zeroline:false,
  ticks:'outside', ticklen:4, tickwidth:1, tickcolor:'#000', tickangle:-45, fixedrange:true,
  tickfont:TICK_FONT};
function ax(extra){ var o = {}; for (var k in common) o[k] = common[k]; for (var k2 in extra) o[k2] = extra[k2]; return o; }

var k = 0;
for (var i = 0; i < 8; i++){
  for (var j = 0; j <= i; j++){
    k++;
    var xa = k === 1 ? 'x' : 'x' + k, ya = k === 1 ? 'y' : 'y' + k;
    var xkey = k === 1 ? 'xaxis' : 'xaxis' + k, ykey = k === 1 ? 'yaxis' : 'yaxis' + k;
    var xdom = [COL_LEFT[j]/W, (COL_LEFT[j]+PS)/W];
    var ydom = [1 - (ROW_TOP[i]+PS)/H, 1 - ROW_TOP[i]/H];
    layout[xkey] = ax({domain:xdom, anchor:ya, range:VAR_RANGES[j], tickmode:'array',
      tickvals:TICK_VALS[j], ticktext:tickText(j), showticklabels:false});
    if (i === 7){
      // bottom-row tick labels, centred under their ticks (rotated 45°)
      var tt = tickText(j);
      TICK_VALS[j].forEach(function(v, q){
        layout.annotations.push({xref:xa, yref:'paper', x:v, y:1-1321/H, text:tt[q], textangle:-45,
          showarrow:false, xanchor:'center', yanchor:'top', font:TICK_FONT});
      });
    }
    if (i === j){
      var maxv = 0;
      MODELS.forEach(function(m){ window['h_'+VARS[i]+'_'+m].forEach(function(v){ if (v > maxv) maxv = v; }); });
      layout[ykey] = ax({domain:ydom, anchor:xa, range:[0, 1.1*maxv], ticks:'', showticklabels:false});
      MODELS.forEach(function(m){
        var bins = window['hb_'+VARS[i]+'_'+m] || window['hb_'+VARS[i]];
        var st = stepXY(bins, window['h_'+VARS[i]+'_'+m]);
        traces.push({type:'scatter', mode:'lines', x:st.x, y:st.y, xaxis:xa, yaxis:ya,
          line:{color:MODEL_COLORS[m], width:1.3, shape:'hv'}, hoverinfo:'skip'});
      });
    } else {
      layout[ykey] = ax({domain:ydom, anchor:xa, range:VAR_RANGES[i], tickmode:'array',
        tickvals:TICK_VALS[i], ticktext:tickText(i), showticklabels:(j === 0)});
      MODELS.forEach(function(m){
        var pts = window['c_'+VARS[i]+'_'+VARS[j]+'_'+m];
        if (!pts) return;
        var x = [], y = [];
        pts.forEach(function(p){ if (p === null){ x.push(null); y.push(null); } else { x.push(p[0]); y.push(p[1]); } });
        traces.push({type:'scatter', mode:'lines', x:x, y:y, xaxis:xa, yaxis:ya, connectgaps:false,
          line:{color:MODEL_COLORS[m], width:1.7, shape:'spline', smoothing:0.6}, hoverinfo:'skip'});
      });
    }
  }
}
// axis titles
for (var c = 0; c < 8; c++){
  layout.annotations.push({xref:'paper', yref:'paper', x:(COL_LEFT[c]+PS/2)/W, y:1-1368/H,
    text:VAR_LABELS[c], showarrow:false, xanchor:'center', yanchor:'middle', font:{family:FONT, size:18, color:'#000'}});
}
for (var r = 1; r < 8; r++){
  layout.annotations.push({xref:'paper', yref:'paper', x:17/W, y:1-(ROW_TOP[r]+PS/2)/H, textangle:-90,
    text:VAR_LABELS[r], showarrow:false, xanchor:'center', yanchor:'middle', font:{family:FONT, size:18, color:'#000'}});
}
// legend texts
var LEG_X = {T:977, A:1081, G:1194, P:1300};
MODELS.forEach(function(m){
  var lines = MODEL_NAMES[m];
  lines.forEach(function(txt, q){
    var yc = 261 - (lines.length - 1 - q) * 22;
    layout.annotations.push({xref:'paper', yref:'paper', x:LEG_X[m]/W, y:1-yc/H,
      text:txt, showarrow:false, xanchor:'center', yanchor:'middle',
      font:{family:FONT, size:21, color:MODEL_COLORS[m]}});
  });
});
Plotly.newPlot('plot', traces, layout, {staticPlot:true, displayModeBar:false});
</script></body></html>
